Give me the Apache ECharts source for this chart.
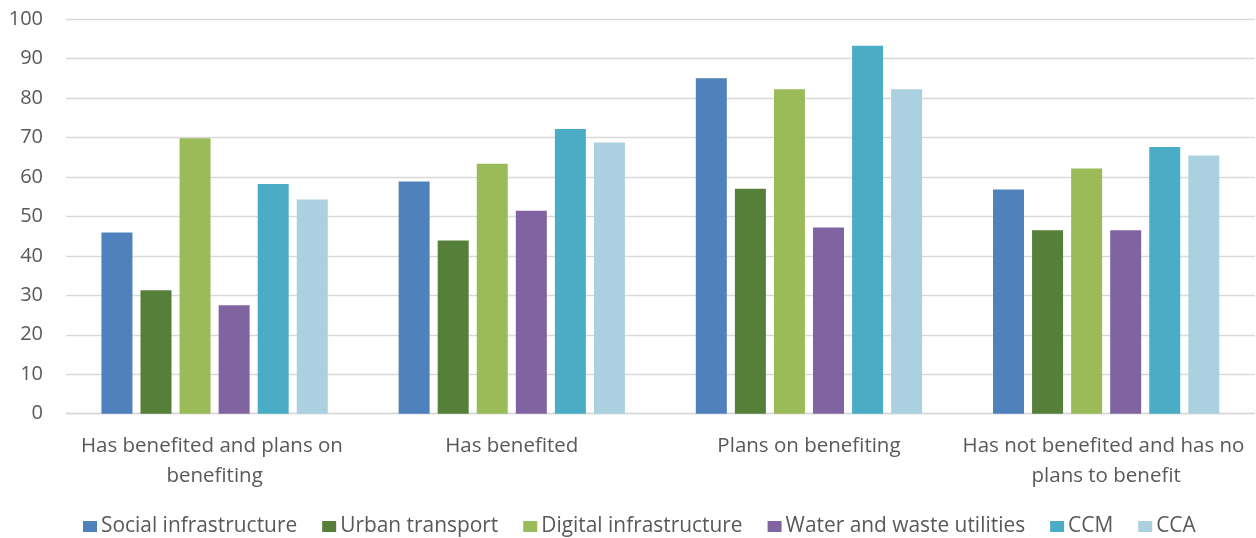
<!DOCTYPE html>
<html><head><meta charset="utf-8">
<script src="https://cdn.jsdelivr.net/npm/echarts@6/dist/echarts.min.js"></script>
<style>html,body{margin:0;padding:0;background:#fff}#c{width:1256px;height:538px}</style>
</head><body><div id="c"></div>
<script>
const categories = ["Has benefited and plans on benefiting", "Has benefited", "Plans on benefiting", "Has not benefited and has no plans to benefit"];
const seriesNames = ["Social infrastructure", "Urban transport", "Digital infrastructure", "Water and waste utilities", "CCM", "CCA"];
const social = [45.9, 58.8, 85.0, 56.8];
const urban = [31.3, 43.9, 57.0, 46.5];
const digital = [69.8, 63.3, 82.2, 62.1];
const water = [27.5, 51.4, 47.2, 46.5];
const ccm = [58.2, 72.1, 93.2, 67.6];
const cca = [54.3, 68.7, 82.2, 65.4];
const colors = ["#4f81bd", "#567f3a", "#9bbb59", "#8064a2", "#4bacc6", "#abd1e0"];
const values = [social, urban, digital, water, ccm, cca];

const font = "'Open Sans', sans-serif";
const chart = echarts.init(document.getElementById('c'));
chart.setOption({
  animation: false,
  textStyle: {fontFamily: font},
  grid: {left: 66, right: 0, top: 19, bottom: 124.3, containLabel: false},
  legend: {
    top: 511, left: 78, itemWidth: 14, itemHeight: 11, itemGap: 25,
    icon: 'rect',
    textStyle: {fontFamily: font, fontSize: 20.9, color: '#595959', padding: [0,0,6,-1]},
    data: seriesNames
  },
  xAxis: {
    type: 'category', data: categories,
    axisLine: {show: true, lineStyle: {color: '#d9d9d9', width: 1.3}},
    axisTick: {show: false},
    axisLabel: {fontFamily: font, fontSize: 20.5, color: '#595959', margin: 17, lineHeight: 30,
      width: 294, overflow: 'break', interval: 0}
  },
  yAxis: {
    type: 'value', min: 0, max: 100, interval: 10,
    axisLine: {show: false}, axisTick: {show: false},
    splitLine: {lineStyle: {color: '#d9d9d9', width: 1.3}},
    axisLabel: {fontFamily: font, fontSize: 20, color: '#595959', margin: 23}
  },
  series: seriesNames.map((n, i) => ({
    name: n, type: 'bar', data: values[i],
    barWidth: 31, barGap: '26%', barCategoryGap: '24%',
    itemStyle: {color: colors[i]}
  }))
});
</script></body></html>
